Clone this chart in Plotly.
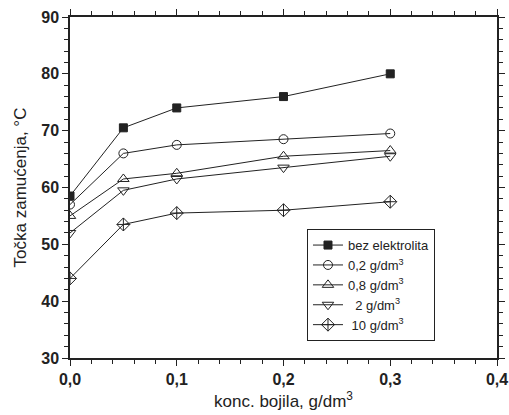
import plotly.graph_objects as go

x = [0.0, 0.05, 0.1, 0.2, 0.3]
names = ["bez elektrolita", "0,2 g/dm<sup>3</sup>", "0,8 g/dm<sup>3</sup>", "  2 g/dm<sup>3</sup>", " 10 g/dm<sup>3</sup>"]
bez = [58.5, 70.5, 74.0, 76.0, 80.0]
s02 = [57.0, 66.0, 67.5, 68.5, 69.5]
s08 = [55.0, 61.5, 62.5, 65.5, 66.5]
s2 = [52.0, 59.5, 61.5, 63.5, 65.5]
s10 = [44.0, 53.5, 55.5, 56.0, 57.5]
series = [bez, s02, s08, s2, s10]
symbols = ["square", "circle-open", "triangle-up-open", "triangle-down-open", "diamond-cross-open"]
sizes = [8, 9, 10, 10, 10]

fig = go.Figure()
for n, s, sym, sz in zip(names, series, symbols, sizes):
    fig.add_trace(go.Scatter(x=x, y=s, name=n, mode="lines+markers",
                             line=dict(color="#222", width=1),
                             marker=dict(symbol=sym, size=sz, color="#222",
                                         line=dict(color="#222", width=1))))

axis_common = dict(showline=True, linecolor="#222", linewidth=1.5, mirror="ticks",
                   ticks="outside", ticklen=6, tickwidth=1.2, tickcolor="#222",
                   showgrid=False, zeroline=False, automargin=False,
                   tickfont=dict(family="Liberation Sans", size=16, color="#222", weight="bold"))

fig.update_xaxes(range=[0, 0.4], dtick=0.1, tickformat=".1f",
                 minor=dict(dtick=0.02, ticks="outside", ticklen=4, tickcolor="#222", showgrid=False),
                 title=dict(text="konc. bojila, g/dm<sup>3</sup>", font=dict(family="Liberation Sans", size=17, color="#222"), standoff=8),
                 **axis_common)
fig.update_yaxes(range=[30, 90], dtick=10,
                 minor=dict(dtick=2, ticks="outside", ticklen=4, tickcolor="#222", showgrid=False),
                 title=dict(text="Točka zamućenja, °C", font=dict(family="Liberation Sans", size=17, color="#222"), standoff=10),
                 **axis_common)

fig.update_layout(width=509, height=415, margin=dict(l=70, r=12, t=17, b=57),
                  plot_bgcolor="white", paper_bgcolor="white",
                  separators=",.",
                  legend=dict(x=0.555, y=0.378, xanchor="left", yanchor="top",
                              bordercolor="#222", borderwidth=1, bgcolor="white",
                              font=dict(family="Liberation Sans", size=13, color="#222"),
                              tracegroupgap=0, itemwidth=30))
fig.write_html("out.html", config={"displayModeBar": False},
               post_script="document.body.style.margin='0';document.documentElement.style.overflow='hidden';document.body.style.overflow='hidden';")
